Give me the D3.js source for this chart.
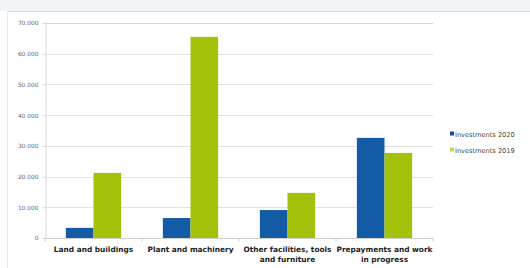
<!DOCTYPE html>
<html>
<head>
<meta charset="utf-8">
<script src="https://cdn.jsdelivr.net/npm/d3@7"></script>
<style>
  body { margin: 0; background: #fff; }
  svg { display: block; }
</style>
</head>
<body>
<svg></svg>
<script>
// investments by asset class, two years side by side

var categories = [
  ['Land and buildings'],
  ['Plant and machinery'],
  ['Other facilities, tools', 'and furniture'],
  ['Prepayments and work', 'in progress']
];
var seriesNames = ['Investments 2020', 'Investments 2019'];
var invest2020 = [3300, 6500, 9100, 32600];
var invest2019 = [21200, 65500, 14700, 27700];
var yTicks = [0, 10000, 20000, 30000, 40000, 50000, 60000, 70000];
var yTickLabels = ['0', '10.000', '20.000', '30.000', '40.000', '50.000', '60.000', '70.000'];

document.addEventListener('DOMContentLoaded', function() {

  var width = 530;
  var height = 268;
  var svg = d3.select('svg')
                .attr('width', width)
                .attr('height', height);

  var margin = {left: 45, right: 97, top: 23, bottom: 30};
  var colors = ['#145ba6', '#a4c10c'];

  // scan frame
  svg.append('rect')
      .attr('x', 0).attr('y', 0)
      .attr('width', width).attr('height', 11)
      .attr('fill', '#f1f5f7');
  svg.append('line')
      .attr('x1', 7).attr('x2', width)
      .attr('y1', 11.5).attr('y2', 11.5)
      .attr('stroke', '#d9e0e4');
  svg.append('line')
      .attr('x1', 7.5).attr('x2', 7.5)
      .attr('y1', 11).attr('y2', height)
      .attr('stroke', '#e6eaed');

  var keys = categories.map((c, i) => i);
  var x = d3.scaleBand()
      .domain(keys)
      .range([margin.left, width - margin.right])
      .paddingInner(0.43)
      .paddingOuter(0.215);

  var x1 = d3.scaleBand()
      .domain([0, 1])
      .range([0, x.bandwidth()]);

  var y = d3.scaleLinear()
      .domain([0, 70000])
      .range([height - margin.bottom, margin.top]);

  // gridlines
  svg.append('g')
    .selectAll('line')
    .data(yTicks)
    .enter()
    .append('line')
      .attr('x1', margin.left)
      .attr('x2', width - margin.right)
      .attr('y1', d => Math.round(y(d)) + 0.5)
      .attr('y2', d => Math.round(y(d)) + 0.5)
      .attr('stroke', (d, i) => i === yTicks.length - 1 ? '#d4d4d4' : '#e2e2e2');

  // y axis
  var yAxis = svg.append('g')
      .attr('transform', `translate(${margin.left + 0.5}, 0)`)
      .call(d3.axisLeft(y)
        .tickValues(yTicks)
        .tickFormat((d, i) => yTickLabels[i])
        .tickSize(3)
        .tickPadding(4));
  yAxis.select('.domain').attr('stroke', '#d8d8d8');
  yAxis.selectAll('.tick line').attr('stroke', '#d8d8d8');
  yAxis.selectAll('text')
      .attr('fill', '#666')
      .style('font-family', 'DejaVu Sans')
      .style('font-size', '5.9px');

  // bars
  var data = keys.map(i => [invest2020[i], invest2019[i]]);
  var groups = svg.append('g')
    .selectAll('g')
    .data(data)
    .enter()
    .append('g')
      .attr('transform', (d, i) => `translate(${x(i)}, 0)`);

  groups.selectAll('rect')
    .data(d => d)
    .enter()
    .append('rect')
      .attr('x', (d, j) => x1(j))
      .attr('width', x1.bandwidth())
      .attr('y', d => y(d))
      .attr('height', d => y(0) - y(d))
      .attr('fill', (d, j) => colors[j]);

  // x axis
  var baseY = Math.round(y(0)) + 0.5;
  svg.append('line')
      .attr('x1', margin.left)
      .attr('x2', width - margin.right)
      .attr('y1', baseY).attr('y2', baseY)
      .attr('stroke', '#cfcfcf');
  svg.append('g')
    .selectAll('line')
    .data(d3.range(keys.length + 1))
    .enter()
    .append('line')
      .attr('x1', d => margin.left + d * (width - margin.right - margin.left) / keys.length)
      .attr('x2', d => margin.left + d * (width - margin.right - margin.left) / keys.length)
      .attr('y1', baseY).attr('y2', baseY + 3)
      .attr('stroke', '#cfcfcf');

  var labels = svg.append('g')
    .selectAll('text')
    .data(categories)
    .enter()
    .append('text')
      .attr('x', (d, i) => x(i) + x.bandwidth() / 2)
      .attr('y', 252)
      .attr('text-anchor', 'middle')
      .attr('fill', '#222')
      .style('font-family', 'DejaVu Sans')
      .style('font-size', '7.4px')
      .style('font-weight', 'bold');
  labels.selectAll('tspan')
    .data(d => d)
    .enter()
    .append('tspan')
      .attr('x', function() { return d3.select(this.parentNode).attr('x'); })
      .attr('dy', (d, i) => i === 0 ? 0 : 9.5)
      .text(d => d);

  // legend
  var legend = svg.append('g')
      .attr('transform', 'translate(450, 135)');
  var items = legend.selectAll('g')
    .data(seriesNames)
    .enter()
    .append('g')
      .attr('transform', (d, i) => `translate(0, ${i * 16})`);
  items.append('rect')
      .attr('x', 0).attr('y', -3.5)
      .attr('width', 4).attr('height', 4)
      .attr('fill', (d, i) => i === 0 ? '#1d3fb0' : '#c8d840');
  items.append('text')
      .attr('x', 5)
      .attr('y', 1.5)
      .attr('fill', '#444')
      .style('font-family', 'DejaVu Sans')
      .style('font-size', '6.6px')
      .text(d => d);

});
</script>
</body>
</html>
